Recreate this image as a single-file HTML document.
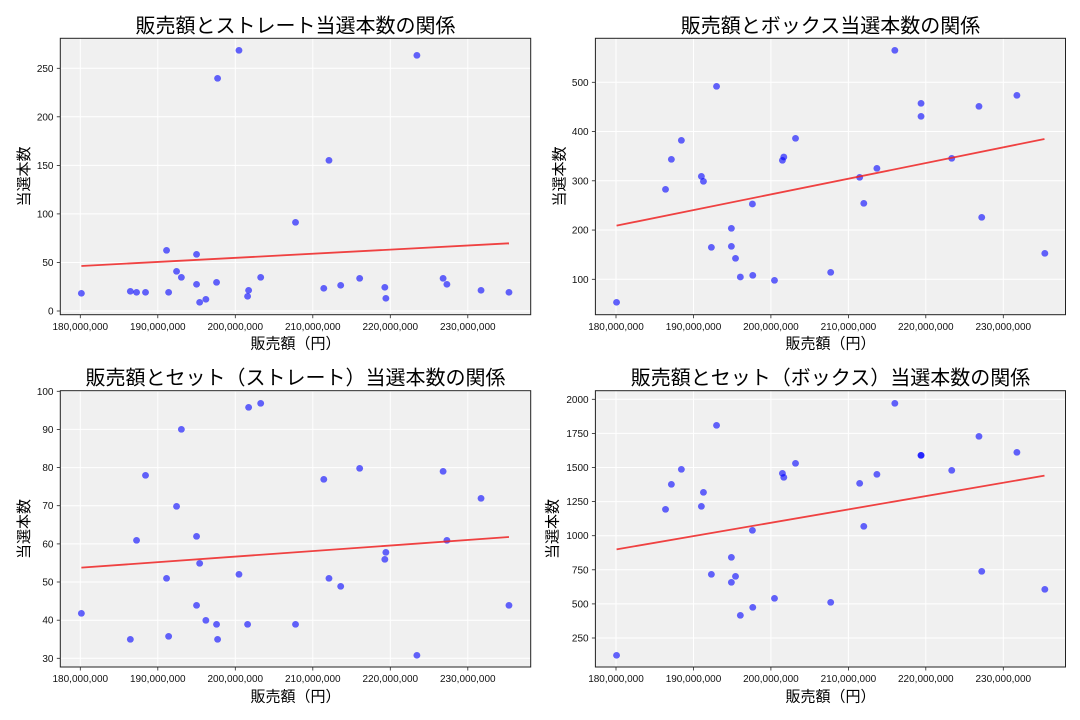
<!DOCTYPE html>
<html><head><meta charset="utf-8"><style>
html,body{margin:0;padding:0;background:#fff;}
svg{display:block;}
.t{font-family:"Liberation Sans","Noto Sans CJK JP",sans-serif;font-size:10px;fill:#111;}
.ttl{font-family:"Liberation Sans","Noto Sans CJK JP",sans-serif;font-size:20px;fill:#000;text-anchor:middle;}
.lab{font-family:"Liberation Sans","Noto Sans CJK JP",sans-serif;font-size:15px;fill:#000;text-anchor:middle;}
.bg{fill:#f0f0f0;}
.fr{fill:none;stroke:#222;stroke-width:1;}
.g{stroke:#fff;stroke-width:1;}
.tk{stroke:#222;stroke-width:0.8;}
.pts circle{fill:#0000ff;fill-opacity:0.6;}
.rl{stroke:#ee2222;stroke-opacity:0.85;stroke-width:1.8;vector-effect:non-scaling-stroke;}
</style></head><body>
<svg width="1080" height="720" viewBox="0 0 1080 720" xmlns="http://www.w3.org/2000/svg">
<!-- ================= P1 ================= -->
<rect class="bg" x="60.3" y="38.3" width="470.4" height="276.4"/>
<g class="g">
<line x1="80.3" y1="38.3" x2="80.3" y2="314.7"/><line x1="157.8" y1="38.3" x2="157.8" y2="314.7"/><line x1="235.3" y1="38.3" x2="235.3" y2="314.7"/><line x1="312.8" y1="38.3" x2="312.8" y2="314.7"/><line x1="390.3" y1="38.3" x2="390.3" y2="314.7"/><line x1="467.8" y1="38.3" x2="467.8" y2="314.7"/>
<line x1="60.3" y1="311" x2="530.7" y2="311"/><line x1="60.3" y1="262.5" x2="530.7" y2="262.5"/><line x1="60.3" y1="213.9" x2="530.7" y2="213.9"/><line x1="60.3" y1="165.4" x2="530.7" y2="165.4"/><line x1="60.3" y1="116.8" x2="530.7" y2="116.8"/><line x1="60.3" y1="68.3" x2="530.7" y2="68.3"/>
</g>
<g class="pts" transform="scale(0.34483,0.33333)">
<circle cx="236" cy="880" r="10"/><circle cx="378" cy="874" r="10"/><circle cx="396" cy="877" r="10"/><circle cx="422" cy="877" r="10"/><circle cx="483" cy="751" r="10"/><circle cx="489" cy="877" r="10"/><circle cx="512" cy="814" r="10"/><circle cx="526" cy="832" r="10"/><circle cx="570" cy="763" r="10"/><circle cx="570" cy="853" r="10"/><circle cx="579" cy="907" r="10"/><circle cx="597" cy="898" r="10"/><circle cx="628" cy="847" r="10"/><circle cx="631" cy="235" r="10"/><circle cx="693" cy="151" r="10"/><circle cx="718" cy="889" r="10"/><circle cx="721" cy="871" r="10"/><circle cx="756" cy="832" r="10"/><circle cx="857" cy="667" r="10"/><circle cx="939" cy="865" r="10"/><circle cx="954" cy="481" r="10"/><circle cx="988" cy="856" r="10"/><circle cx="1043" cy="835" r="10"/><circle cx="1116" cy="862" r="10"/><circle cx="1119" cy="895" r="10"/><circle cx="1209" cy="166" r="10"/><circle cx="1285" cy="835" r="10"/><circle cx="1296" cy="853" r="10"/><circle cx="1395" cy="871" r="10"/><circle cx="1476" cy="877" r="10"/>
<line class="rl" x1="236" y1="798" x2="1476" y2="730"/>
</g>
<rect class="fr" x="60.3" y="38.3" width="470.4" height="276.4"/>
<g class="tk">
<line x1="80.3" y1="314.7" x2="80.3" y2="318.2"/><line x1="157.8" y1="314.7" x2="157.8" y2="318.2"/><line x1="235.3" y1="314.7" x2="235.3" y2="318.2"/><line x1="312.8" y1="314.7" x2="312.8" y2="318.2"/><line x1="390.3" y1="314.7" x2="390.3" y2="318.2"/><line x1="467.8" y1="314.7" x2="467.8" y2="318.2"/>
<line x1="56.8" y1="311" x2="60.3" y2="311"/><line x1="56.8" y1="262.5" x2="60.3" y2="262.5"/><line x1="56.8" y1="213.9" x2="60.3" y2="213.9"/><line x1="56.8" y1="165.4" x2="60.3" y2="165.4"/><line x1="56.8" y1="116.8" x2="60.3" y2="116.8"/><line x1="56.8" y1="68.3" x2="60.3" y2="68.3"/>
</g>
<g class="t" text-anchor="middle">
<text x="80.3" y="330">180,000,000</text><text x="157.8" y="330">190,000,000</text><text x="235.3" y="330">200,000,000</text><text x="312.8" y="330">210,000,000</text><text x="390.3" y="330">220,000,000</text><text x="467.8" y="330">230,000,000</text>
</g>
<g class="t" text-anchor="end">
<text x="53.5" y="314.5">0</text><text x="53.5" y="266">50</text><text x="53.5" y="217.4">100</text><text x="53.5" y="168.9">150</text><text x="53.5" y="120.3">200</text><text x="53.5" y="71.8">250</text>
</g>
<text class="ttl" x="295.5" y="32.5">販売額とストレート当選本数の関係</text>
<text class="lab" x="295.5" y="348.5">販売額（円）</text>
<text class="lab" transform="translate(29,176.5) rotate(-90)" x="0" y="0">当選本数</text>

<!-- ================= P2 ================= -->
<rect class="bg" x="595.4" y="38.3" width="470.1" height="276.4"/>
<g class="g">
<line x1="616" y1="38.3" x2="616" y2="314.7"/><line x1="693.5" y1="38.3" x2="693.5" y2="314.7"/><line x1="770.9" y1="38.3" x2="770.9" y2="314.7"/><line x1="848.4" y1="38.3" x2="848.4" y2="314.7"/><line x1="925.8" y1="38.3" x2="925.8" y2="314.7"/><line x1="1003.3" y1="38.3" x2="1003.3" y2="314.7"/>
<line x1="595.4" y1="279.3" x2="1065.5" y2="279.3"/><line x1="595.4" y1="230.05" x2="1065.5" y2="230.05"/><line x1="595.4" y1="180.8" x2="1065.5" y2="180.8"/><line x1="595.4" y1="131.55" x2="1065.5" y2="131.55"/><line x1="595.4" y1="82.3" x2="1065.5" y2="82.3"/>
</g>
<g class="pts" transform="translate(540,0) scale(0.34483,0.33333)">
<circle cx="222" cy="907" r="10"/><circle cx="364" cy="568" r="10"/><circle cx="381" cy="478" r="10"/><circle cx="410" cy="421" r="10"/><circle cx="468" cy="529" r="10"/><circle cx="474" cy="544" r="10"/><circle cx="497" cy="742" r="10"/><circle cx="512" cy="259" r="10"/><circle cx="555" cy="685" r="10"/><circle cx="555" cy="739" r="10"/><circle cx="567" cy="775" r="10"/><circle cx="581" cy="831" r="10"/><circle cx="616" cy="612" r="10"/><circle cx="617" cy="826" r="10"/><circle cx="680" cy="841" r="10"/><circle cx="703" cy="481" r="10"/><circle cx="707" cy="471" r="10"/><circle cx="741" cy="415" r="10"/><circle cx="843" cy="817" r="10"/><circle cx="927" cy="532" r="10"/><circle cx="939" cy="610" r="10"/><circle cx="977" cy="505" r="10"/><circle cx="1029" cy="151" r="10"/><circle cx="1105" cy="310" r="10"/><circle cx="1105" cy="349" r="10"/><circle cx="1194" cy="475" r="10"/><circle cx="1273" cy="319" r="10"/><circle cx="1281" cy="652" r="10"/><circle cx="1383" cy="286" r="10"/><circle cx="1464" cy="760" r="10"/>
<line class="rl" x1="222" y1="677" x2="1463" y2="417"/>
</g>
<rect class="fr" x="595.4" y="38.3" width="470.1" height="276.4"/>
<g class="tk">
<line x1="616" y1="314.7" x2="616" y2="318.2"/><line x1="693.5" y1="314.7" x2="693.5" y2="318.2"/><line x1="770.9" y1="314.7" x2="770.9" y2="318.2"/><line x1="848.4" y1="314.7" x2="848.4" y2="318.2"/><line x1="925.8" y1="314.7" x2="925.8" y2="318.2"/><line x1="1003.3" y1="314.7" x2="1003.3" y2="318.2"/>
<line x1="591.9" y1="279.3" x2="595.4" y2="279.3"/><line x1="591.9" y1="230.05" x2="595.4" y2="230.05"/><line x1="591.9" y1="180.8" x2="595.4" y2="180.8"/><line x1="591.9" y1="131.55" x2="595.4" y2="131.55"/><line x1="591.9" y1="82.3" x2="595.4" y2="82.3"/>
</g>
<g class="t" text-anchor="middle">
<text x="616" y="330">180,000,000</text><text x="693.5" y="330">190,000,000</text><text x="770.9" y="330">200,000,000</text><text x="848.4" y="330">210,000,000</text><text x="925.8" y="330">220,000,000</text><text x="1003.3" y="330">230,000,000</text>
</g>
<g class="t" text-anchor="end">
<text x="588.6" y="282.8">100</text><text x="588.6" y="233.5">200</text><text x="588.6" y="184.3">300</text><text x="588.6" y="135">400</text><text x="588.6" y="85.8">500</text>
</g>
<text class="ttl" x="830.5" y="32.5">販売額とボックス当選本数の関係</text>
<text class="lab" x="830.5" y="348.5">販売額（円）</text>
<text class="lab" transform="translate(564.5,176.5) rotate(-90)" x="0" y="0">当選本数</text>

<!-- ================= P3 ================= -->
<rect class="bg" x="60.3" y="390.7" width="470.4" height="276.3"/>
<g class="g">
<line x1="80.3" y1="390.7" x2="80.3" y2="667"/><line x1="157.8" y1="390.7" x2="157.8" y2="667"/><line x1="235.3" y1="390.7" x2="235.3" y2="667"/><line x1="312.8" y1="390.7" x2="312.8" y2="667"/><line x1="390.3" y1="390.7" x2="390.3" y2="667"/><line x1="467.8" y1="390.7" x2="467.8" y2="667"/>
<line x1="60.3" y1="658.3" x2="530.7" y2="658.3"/><line x1="60.3" y1="620.2" x2="530.7" y2="620.2"/><line x1="60.3" y1="582" x2="530.7" y2="582"/><line x1="60.3" y1="543.9" x2="530.7" y2="543.9"/><line x1="60.3" y1="505.7" x2="530.7" y2="505.7"/><line x1="60.3" y1="467.6" x2="530.7" y2="467.6"/><line x1="60.3" y1="429.4" x2="530.7" y2="429.4"/><line x1="60.3" y1="391.3" x2="530.7" y2="391.3"/>
</g>
<g class="pts" transform="translate(0,360) scale(0.34483,0.33333)">
<circle cx="236" cy="760" r="10"/><circle cx="378" cy="838" r="10"/><circle cx="396" cy="541" r="10"/><circle cx="422" cy="346" r="10"/><circle cx="483" cy="655" r="10"/><circle cx="489" cy="829" r="10"/><circle cx="512" cy="439" r="10"/><circle cx="526" cy="208" r="10"/><circle cx="570" cy="529" r="10"/><circle cx="570" cy="736" r="10"/><circle cx="579" cy="610" r="10"/><circle cx="597" cy="781" r="10"/><circle cx="628" cy="793" r="10"/><circle cx="631" cy="838" r="10"/><circle cx="693" cy="643" r="10"/><circle cx="718" cy="793" r="10"/><circle cx="721" cy="142" r="10"/><circle cx="756" cy="130" r="10"/><circle cx="857" cy="793" r="10"/><circle cx="939" cy="358" r="10"/><circle cx="954" cy="655" r="10"/><circle cx="988" cy="679" r="10"/><circle cx="1043" cy="325" r="10"/><circle cx="1116" cy="598" r="10"/><circle cx="1119" cy="577" r="10"/><circle cx="1209" cy="886" r="10"/><circle cx="1285" cy="334" r="10"/><circle cx="1296" cy="541" r="10"/><circle cx="1395" cy="415" r="10"/><circle cx="1476" cy="736" r="10"/>
<line class="rl" x1="236" y1="623" x2="1476" y2="531"/>
</g>
<rect class="fr" x="60.3" y="390.7" width="470.4" height="276.3"/>
<g class="tk">
<line x1="80.3" y1="667" x2="80.3" y2="670.5"/><line x1="157.8" y1="667" x2="157.8" y2="670.5"/><line x1="235.3" y1="667" x2="235.3" y2="670.5"/><line x1="312.8" y1="667" x2="312.8" y2="670.5"/><line x1="390.3" y1="667" x2="390.3" y2="670.5"/><line x1="467.8" y1="667" x2="467.8" y2="670.5"/>
<line x1="56.8" y1="658.3" x2="60.3" y2="658.3"/><line x1="56.8" y1="620.2" x2="60.3" y2="620.2"/><line x1="56.8" y1="582" x2="60.3" y2="582"/><line x1="56.8" y1="543.9" x2="60.3" y2="543.9"/><line x1="56.8" y1="505.7" x2="60.3" y2="505.7"/><line x1="56.8" y1="467.6" x2="60.3" y2="467.6"/><line x1="56.8" y1="429.4" x2="60.3" y2="429.4"/><line x1="56.8" y1="391.3" x2="60.3" y2="391.3"/>
</g>
<g class="t" text-anchor="middle">
<text x="80.3" y="682">180,000,000</text><text x="157.8" y="682">190,000,000</text><text x="235.3" y="682">200,000,000</text><text x="312.8" y="682">210,000,000</text><text x="390.3" y="682">220,000,000</text><text x="467.8" y="682">230,000,000</text>
</g>
<g class="t" text-anchor="end">
<text x="53.5" y="661.8">30</text><text x="53.5" y="623.7">40</text><text x="53.5" y="585.5">50</text><text x="53.5" y="547.4">60</text><text x="53.5" y="509.2">70</text><text x="53.5" y="471.1">80</text><text x="53.5" y="432.9">90</text><text x="53.5" y="394.8">100</text>
</g>
<text class="ttl" x="295.5" y="384.5">販売額とセット（ストレート）当選本数の関係</text>
<text class="lab" x="295.5" y="701.5">販売額（円）</text>
<text class="lab" transform="translate(29,529) rotate(-90)" x="0" y="0">当選本数</text>

<!-- ================= P4 ================= -->
<rect class="bg" x="595.4" y="390.7" width="470.1" height="276.3"/>
<g class="g">
<line x1="616" y1="390.7" x2="616" y2="667"/><line x1="693.5" y1="390.7" x2="693.5" y2="667"/><line x1="770.9" y1="390.7" x2="770.9" y2="667"/><line x1="848.4" y1="390.7" x2="848.4" y2="667"/><line x1="925.8" y1="390.7" x2="925.8" y2="667"/><line x1="1003.3" y1="390.7" x2="1003.3" y2="667"/>
<line x1="595.4" y1="638" x2="1065.5" y2="638"/><line x1="595.4" y1="603.9" x2="1065.5" y2="603.9"/><line x1="595.4" y1="569.8" x2="1065.5" y2="569.8"/><line x1="595.4" y1="535.7" x2="1065.5" y2="535.7"/><line x1="595.4" y1="501.6" x2="1065.5" y2="501.6"/><line x1="595.4" y1="467.5" x2="1065.5" y2="467.5"/><line x1="595.4" y1="433.4" x2="1065.5" y2="433.4"/><line x1="595.4" y1="399.3" x2="1065.5" y2="399.3"/>
</g>
<g class="pts" transform="translate(540,360) scale(0.34483,0.33333)">
<circle cx="222" cy="886" r="10"/><circle cx="364" cy="448" r="10"/><circle cx="381" cy="373" r="10"/><circle cx="410" cy="328" r="10"/><circle cx="468" cy="439" r="10"/><circle cx="474" cy="397" r="10"/><circle cx="497" cy="643" r="10"/><circle cx="512" cy="196" r="10"/><circle cx="555" cy="592" r="10"/><circle cx="555" cy="667" r="10"/><circle cx="567" cy="649" r="10"/><circle cx="581" cy="766" r="10"/><circle cx="616" cy="511" r="10"/><circle cx="617" cy="742" r="10"/><circle cx="680" cy="715" r="10"/><circle cx="703" cy="340" r="10"/><circle cx="707" cy="352" r="10"/><circle cx="741" cy="310" r="10"/><circle cx="843" cy="727" r="10"/><circle cx="927" cy="370" r="10"/><circle cx="939" cy="499" r="10"/><circle cx="977" cy="343" r="10"/><circle cx="1029" cy="130" r="10"/><circle cx="1105" cy="286" r="10"/><circle cx="1105" cy="286" r="10"/><circle cx="1194" cy="331" r="10"/><circle cx="1273" cy="229" r="10"/><circle cx="1281" cy="634" r="10"/><circle cx="1383" cy="277" r="10"/><circle cx="1464" cy="688" r="10"/>
<line class="rl" x1="222" y1="568" x2="1463" y2="347"/>
</g>
<rect class="fr" x="595.4" y="390.7" width="470.1" height="276.3"/>
<g class="tk">
<line x1="616" y1="667" x2="616" y2="670.5"/><line x1="693.5" y1="667" x2="693.5" y2="670.5"/><line x1="770.9" y1="667" x2="770.9" y2="670.5"/><line x1="848.4" y1="667" x2="848.4" y2="670.5"/><line x1="925.8" y1="667" x2="925.8" y2="670.5"/><line x1="1003.3" y1="667" x2="1003.3" y2="670.5"/>
<line x1="591.9" y1="638" x2="595.4" y2="638"/><line x1="591.9" y1="603.9" x2="595.4" y2="603.9"/><line x1="591.9" y1="569.8" x2="595.4" y2="569.8"/><line x1="591.9" y1="535.7" x2="595.4" y2="535.7"/><line x1="591.9" y1="501.6" x2="595.4" y2="501.6"/><line x1="591.9" y1="467.5" x2="595.4" y2="467.5"/><line x1="591.9" y1="433.4" x2="595.4" y2="433.4"/><line x1="591.9" y1="399.3" x2="595.4" y2="399.3"/>
</g>
<g class="t" text-anchor="middle">
<text x="616" y="682">180,000,000</text><text x="693.5" y="682">190,000,000</text><text x="770.9" y="682">200,000,000</text><text x="848.4" y="682">210,000,000</text><text x="925.8" y="682">220,000,000</text><text x="1003.3" y="682">230,000,000</text>
</g>
<g class="t" text-anchor="end">
<text x="588.6" y="641.5">250</text><text x="588.6" y="607.4">500</text><text x="588.6" y="573.3">750</text><text x="588.6" y="539.2">1000</text><text x="588.6" y="505.1">1250</text><text x="588.6" y="471">1500</text><text x="588.6" y="436.9">1750</text><text x="588.6" y="402.8">2000</text>
</g>
<text class="ttl" x="830.5" y="384.5">販売額とセット（ボックス）当選本数の関係</text>
<text class="lab" x="830.5" y="701.5">販売額（円）</text>
<text class="lab" transform="translate(557.5,529) rotate(-90)" x="0" y="0">当選本数</text>
</svg>
</body></html>
